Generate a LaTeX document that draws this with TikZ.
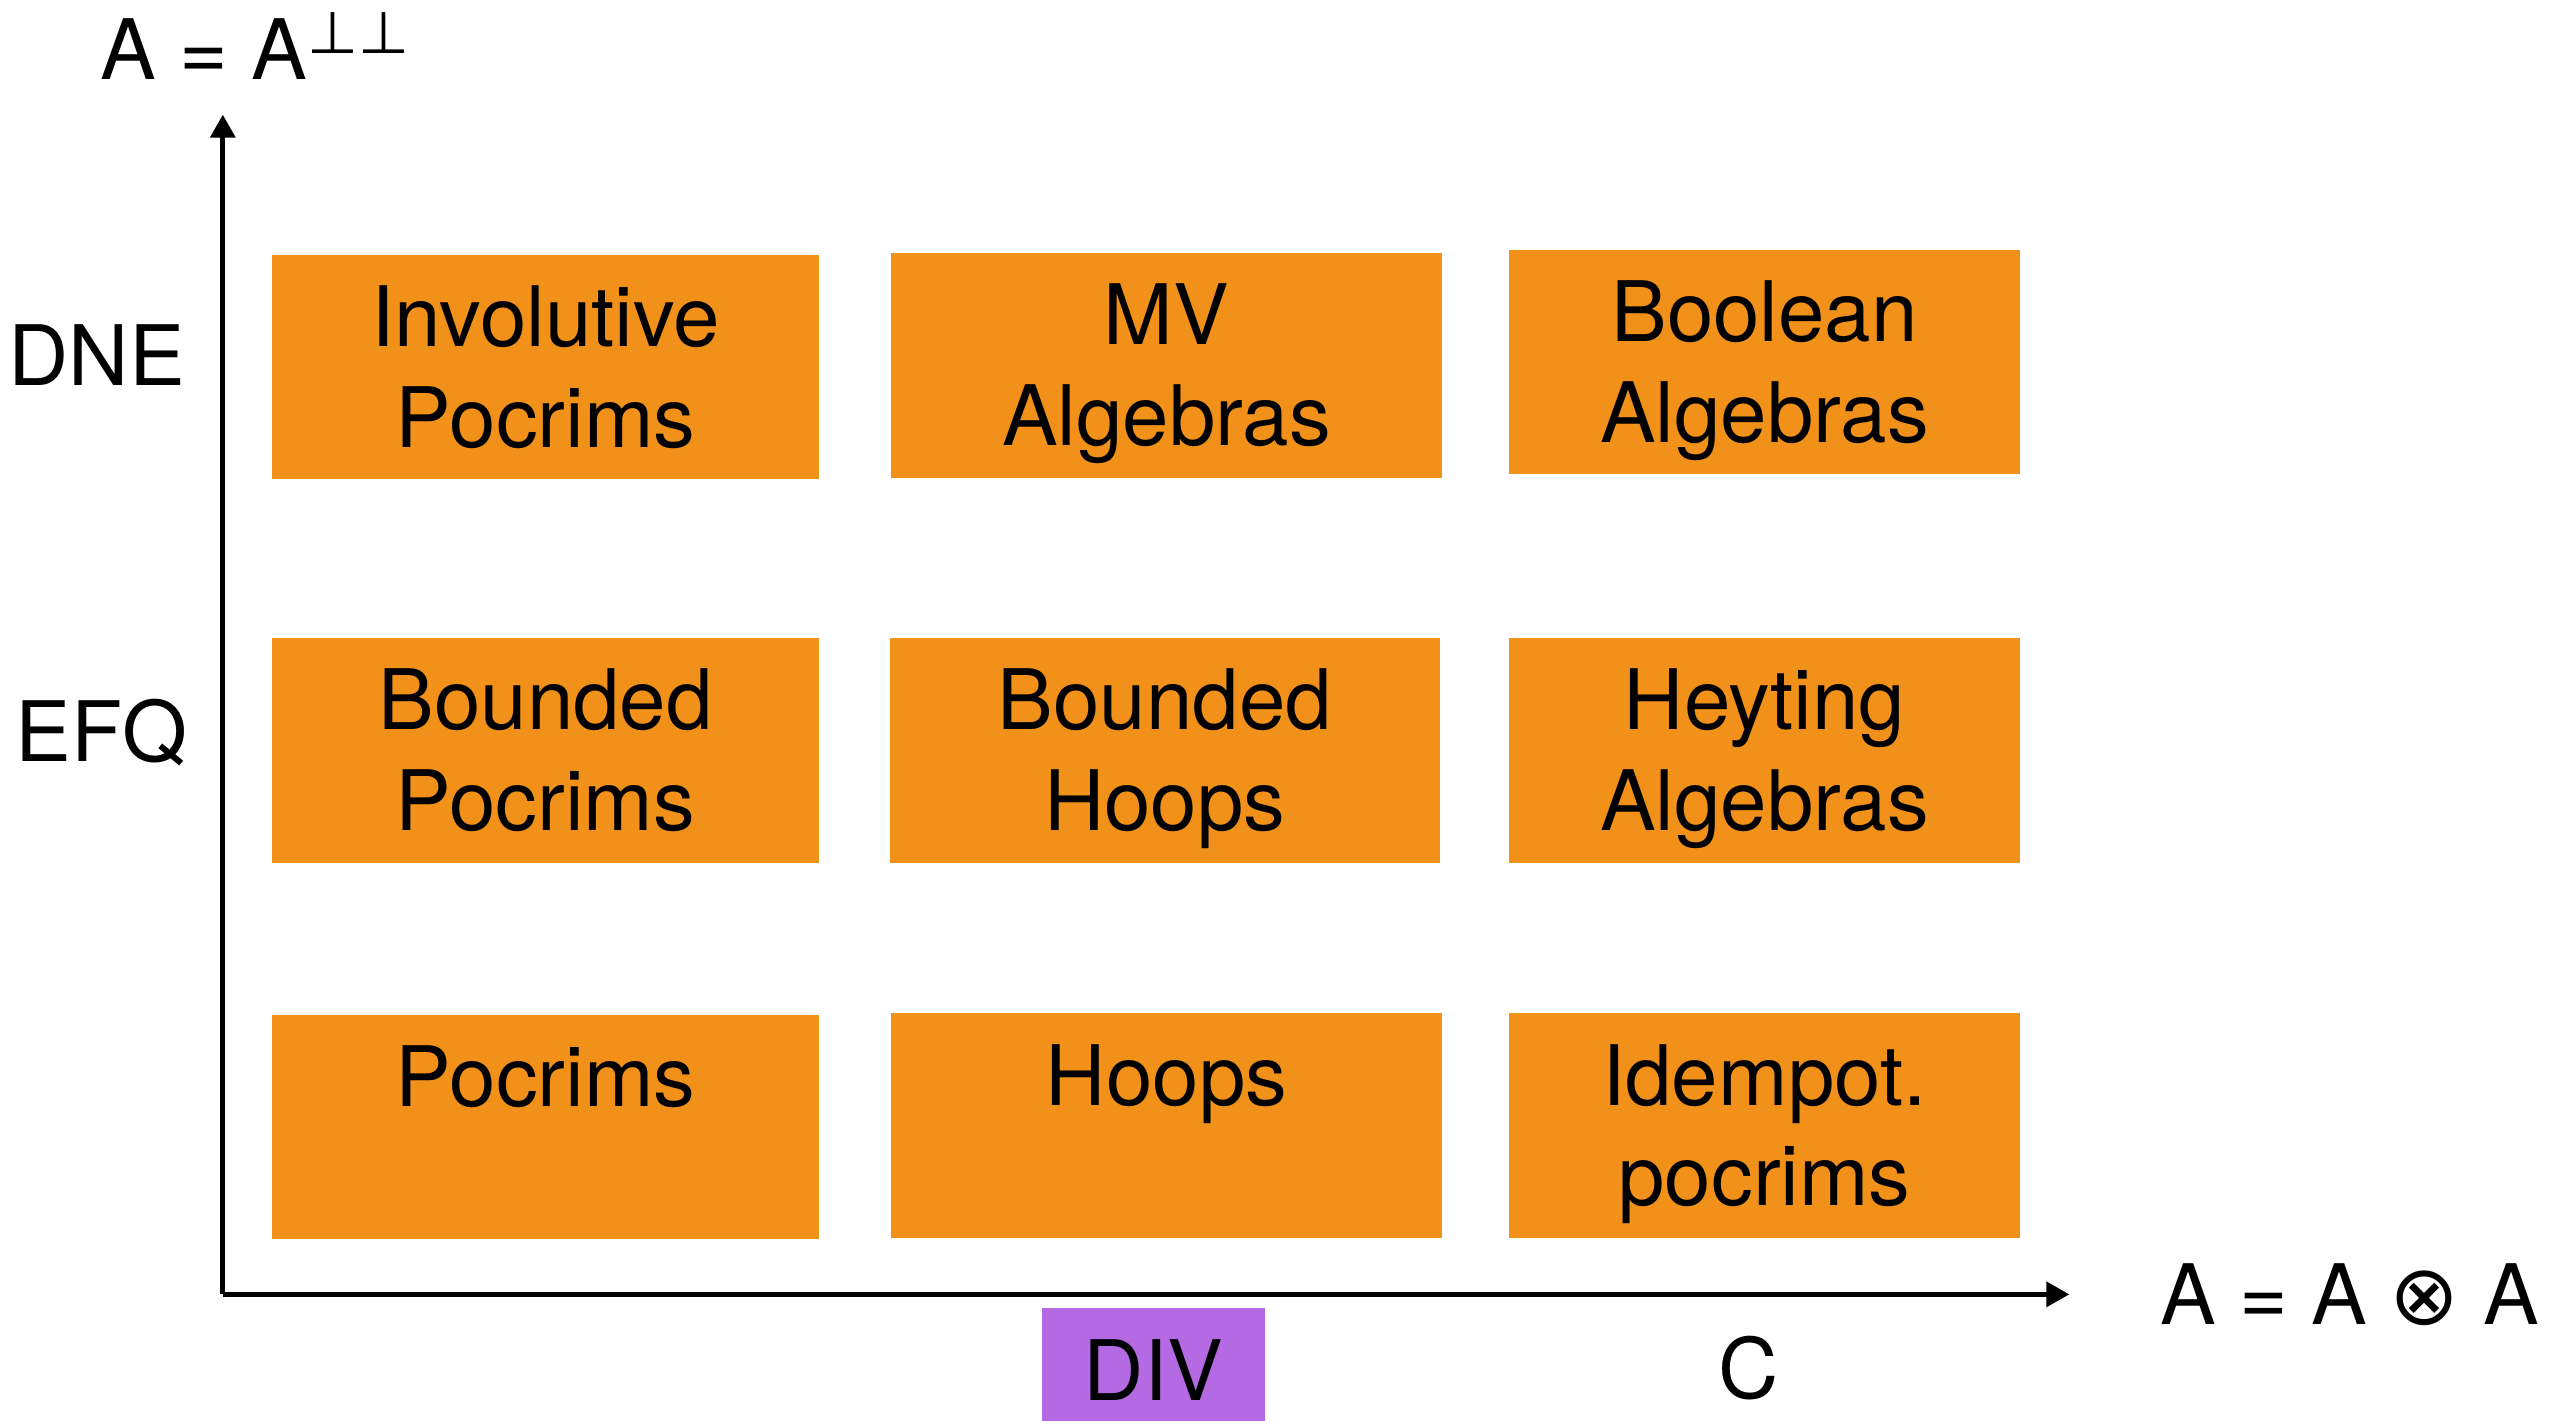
\documentclass[tikz,border=0pt]{standalone}
\usepackage{fontspec}
\setmainfont{TeX Gyre Heros}
\newfontfamily\symfont{DejaVu Sans}
\usetikzlibrary{arrows.meta}
\definecolor{boxorange}{HTML}{F29119}
\definecolor{divpurple}{HTML}{B36AE2}
\newcommand{\boxtop}{\rule{0pt}{31.3pt}}

\begin{document}
\begin{tikzpicture}[x=0.02cm, y=-0.02cm, every node/.style={font=\fontsize{29}{35}\selectfont},
  classbox/.style={fill=boxorange, align=center, minimum width=#1, minimum height=2.74cm, inner sep=0pt},
  axis/.style={line width=1.7pt, -{Triangle[length=0.28cm,width=0.3cm]}}]
    \useasboundingbox (0,0) rectangle (1568,867);
    \coordinate (O) at (136,790);
    \coordinate (Ytip) at (136,70);
    \coordinate (Xtip) at (1263,790);
    \draw[axis] (O) -- (Ytip);
    \draw[axis] (O) -- (Xtip);
    \node (DNEq) at (156,28) {A = A\textsuperscript{\symfont ⊥⊥}};
    \node (XEq) at (1434,790) {A = A {\symfont ⊗} A};
    \node (DNE) at (59,217) {DNE};
    \node (EFQ) at (62,447) {EFQ};
    \node [fill=divpurple, minimum width=2.72cm, minimum height=1.5cm, inner sep=0pt] (DIV) at (704,836) {DIV};
    \node (C) at (1067,835) {C};
    % classes
    \node [classbox=6.68cm] (InvPoc) at (333,224) {\boxtop Involutive\\\strut Pocrims};
    \node [classbox=6.72cm] (MV) at (712,223) {\boxtop MV\\\strut Algebras};
    \node [classbox=6.24cm] (Bool) at (1077,221) {\boxtop Boolean\\\strut Algebras};
    \node [classbox=6.68cm] (BPoc) at (333,458) {\boxtop Bounded\\\strut Pocrims};
    \node [classbox=6.72cm] (BHoop) at (711,458) {\boxtop Bounded\\\strut Hoops};
    \node [classbox=6.24cm] (Heyt) at (1077,458) {\boxtop Heyting\\\strut Algebras};
    \node [classbox=6.68cm] (Poc) at (333,688) {\boxtop Pocrims\\\strut};
    \node [classbox=6.72cm] (Hoop) at (712,687) {\boxtop Hoops\\\strut};
    \node [classbox=6.24cm] (IdPoc) at (1077,687) {\boxtop Idempot.\\\strut pocrims};
\end{tikzpicture}
\end{document}
